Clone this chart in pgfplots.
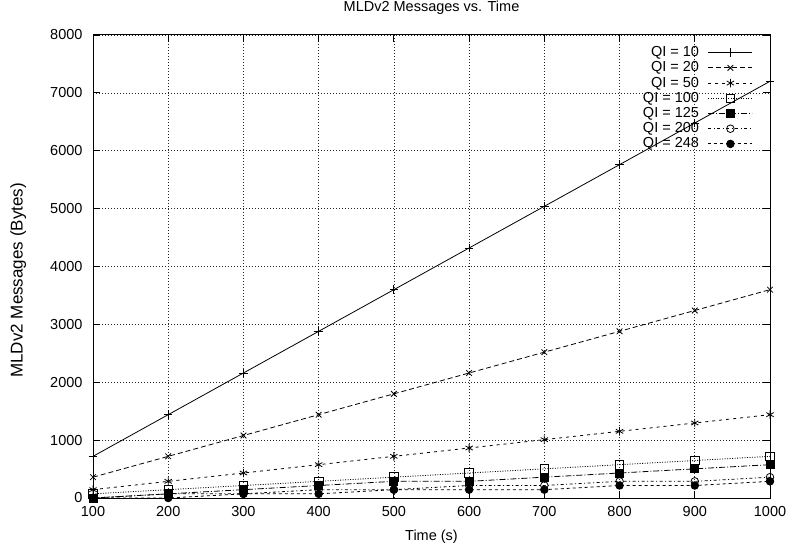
\documentclass[border=0pt]{standalone}
\usepackage{fontspec}
\setmainfont{Liberation Sans}
\usepackage{pgfplots}
\pgfplotsset{compat=1.18}
\usepackage{pgfplotstable}

% MLDv2 message volume (bytes) over time for several query intervals
\pgfplotstableread{
t    qi10 qi20 qi50 qi100 qi125 qi200 qi248
100  720  360  144  72    0     0     0
200  1440 720  288  144   72    72    0
300  2160 1080 432  216   144   72    72
400  2880 1440 576  288   216   144   72
500  3600 1800 720  360   288   144   144
600  4320 2160 864  432   288   216   144
700  5040 2520 1008 504   360   216   144
800  5760 2880 1152 576   432   288   216
900  6480 3240 1296 648   504   288   216
1000 7200 3600 1440 720   576   360   288
}\msgs

\begin{document}
\begin{tikzpicture}[font=\fontsize{14.5bp}{17bp}\selectfont]
\begin{axis}[
  scale only axis,
  width=677bp, height=463bp,
  xmin=100, xmax=1000, ymin=0, ymax=8000,
  xtick={100,200,...,1000},
  ytick={0,1000,...,8000},
  scaled ticks=false,
  /pgf/number format/1000 sep={},
  /pgf/number format/assume math mode=true,
  tick align=inside,
  major tick length=7bp,
  tick style={black, line width=0.9bp},
  axis line style={black, line width=1bp},
  grid=major,
  major grid style={black!85, line width=0.6bp, dash pattern=on 1bp off 2bp},
  yticklabel style={xshift=-7bp},
  xticklabel style={yshift=-5bp},
  title={MLDv2 Messages vs. Time},
  title style={at={(axis description cs:0.5,1)}, anchor=base, yshift=18bp},
  xlabel={Time (s)},
  xlabel style={at={(axis description cs:0.5,0)}, anchor=base, yshift=-42bp},
  ylabel={MLDv2 Messages (Bytes)},
  ylabel style={at={(axis description cs:-0.1103,0.470)}, anchor=center,
    font=\fontsize{17bp}{20bp}\selectfont},
  every axis plot/.append style={black, line width=0.8bp},
  legend plot pos=right,
  legend cell align=right,
  legend image code/.code={%
    \draw[mark repeat=2, mark phase=2] plot coordinates {(0bp,0bp) (22bp,0bp) (44bp,0bp)};},
  legend style={
    at={(axis description cs:1,1)}, anchor=north east,
    xshift=-17bp, yshift=-11bp,
    draw=none, fill=none, inner sep=0pt,
    nodes={inner sep=0pt, text height=10.5bp, text depth=2.5bp},
    /tikz/column sep=9bp, /tikz/row sep=2.2bp,
  },
]
\addplot[solid, mark=+, mark size=4.2bp, mark options={solid}]
  table[x=t, y=qi10] {\msgs};
\addlegendentry{QI = 10}
\addplot[dash pattern=on 5bp off 3bp, mark=x, mark size=4bp, mark options={solid}]
  table[x=t, y=qi20] {\msgs};
\addlegendentry{QI = 20}
\addplot[dash pattern=on 3bp off 4bp, mark=asterisk, mark size=4.2bp, mark options={solid}]
  table[x=t, y=qi50] {\msgs};
\addlegendentry{QI = 50}
\addplot[dash pattern=on 1bp off 1.5bp, mark=square, mark size=4.3bp, mark options={solid}]
  table[x=t, y=qi100] {\msgs};
\addlegendentry{QI = 100}
\addplot[dash pattern=on 6bp off 2bp on 1bp off 2bp, mark=square*, mark size=4bp, mark options={solid}]
  table[x=t, y=qi125] {\msgs};
\addlegendentry{QI = 125}
\addplot[dash pattern=on 3bp off 2.5bp on 1bp off 2.5bp, mark=o, mark size=3.8bp, mark options={solid}]
  table[x=t, y=qi200] {\msgs};
\addlegendentry{QI = 200}
\addplot[dash pattern=on 3bp off 3bp, mark=*, mark size=3.8bp, mark options={solid}]
  table[x=t, y=qi248] {\msgs};
\addlegendentry{QI = 248}
\end{axis}
\pgfresetboundingbox
\useasboundingbox ([xshift=-93bp,yshift=-50bp]current axis.south west)
  rectangle ([xshift=21bp,yshift=35bp]current axis.north east);
\end{tikzpicture}
\end{document}
